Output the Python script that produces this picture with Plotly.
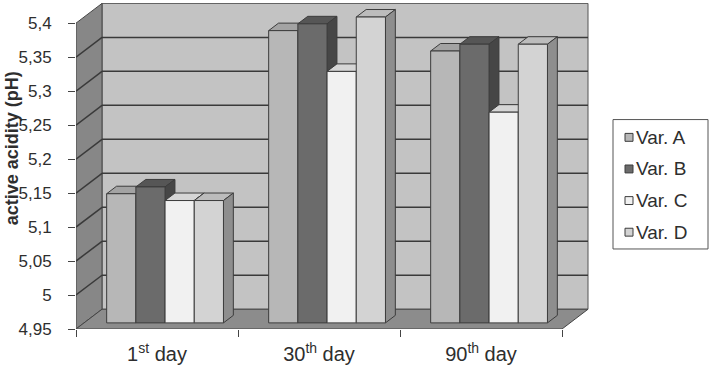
import plotly.graph_objects as go

# ---------------- data ----------------
categories = ["1st day", "30th day", "90th day"]
category_labels = ["1<sup>st</sup> day", "30<sup>th</sup> day", "90<sup>th</sup> day"]
series_names = ["Var. A", "Var. B", "Var. C", "Var. D"]
var_a = [5.14, 5.38, 5.35]
var_b = [5.15, 5.39, 5.36]
var_c = [5.13, 5.32, 5.26]
var_d = [5.13, 5.40, 5.36]
y_tickvals = [4.95, 5.0, 5.05, 5.1, 5.15, 5.2, 5.25, 5.3, 5.35, 5.4]
y_ticktext = ["4,95", "5", "5,05", "5,1", "5,15", "5,2", "5,25", "5,3", "5,35", "5,4"]
y_title = "active acidity (pH)"

series_values = [var_a, var_b, var_c, var_d]

# ---------------- styling / geometry ----------------
front_colors = ["#b7b7b7", "#6b6b6b", "#f1f1f1", "#d3d3d3"]
top_colors = ["#a3a3a3", "#565656", "#d6d6d6", "#bcbcbc"]
side_colors = ["#8d8d8d", "#464646", "#b8b8b8", "#8e8e8e"]
edge = "#3c3c3c"
text_color = "#2e2e2e"
FONT = "Liberation Sans, Arial, sans-serif"

W, H = 714, 368
ML, MR, MT, MB = 76, 124, 3, 35
plot_w = W - ML - MR
plot_h = H - MT - MB
px_per_cat = 162.0
y_min = y_tickvals[0]
y_top = y_tickvals[-1]
px_per_unit = 688.0
x_lo = -0.5
x_hi = x_lo + plot_w / px_per_cat
y_hi = y_min + plot_h / px_per_unit

DX = 26 / px_per_cat          # depth offset in x units
DY = 20 / px_per_unit         # depth offset in y units
f_front = 0.31                # bar front plane fraction of depth
f_depth = 0.38                # bar depth fraction
bar_w = 29.2 / px_per_cat
n_cat = len(categories)
x_left, x_right = x_lo, x_lo + n_cat

BX, BY = f_front * DX, f_front * DY
TX, TY = f_depth * DX, f_depth * DY


def px_to_paper_x(px):
    return (px - ML) / plot_w


def px_to_paper_y(py):
    return (H - MB - py) / plot_h


shapes = []


def path(pts):
    return "M " + " L ".join(f"{x},{y}" for x, y in pts) + " Z"


# back wall
shapes.append(dict(type="rect", xref="x", yref="y", layer="between",
                   x0=x_left + DX, x1=x_right + DX, y0=y_min + DY, y1=y_top + DY,
                   fillcolor="#c3c3c3", line=dict(color="#555555", width=1)))
# left wall
shapes.append(dict(type="path", xref="x", yref="y", layer="between",
                   path=path([(x_left, y_min), (x_left + DX, y_min + DY),
                              (x_left + DX, y_top + DY), (x_left, y_top)]),
                   fillcolor="#878787", line=dict(color="#444444", width=1)))
# floor
shapes.append(dict(type="path", xref="x", yref="y", layer="between",
                   path=path([(x_left, y_min), (x_right, y_min),
                              (x_right + DX, y_min + DY), (x_left + DX, y_min + DY)]),
                   fillcolor="#8c8c8c", line=dict(color="#444444", width=1)))
# gridlines
for v in y_tickvals[1:-1]:
    shapes.append(dict(type="line", xref="x", yref="y", layer="between",
                       x0=x_left + DX, x1=x_right + DX, y0=v + DY, y1=v + DY,
                       line=dict(color="#3a3a3a", width=1.5)))
    shapes.append(dict(type="line", xref="x", yref="y", layer="between",
                       x0=x_left, x1=x_left + DX, y0=v, y1=v + DY,
                       line=dict(color="#3a3a3a", width=1.5)))

# bar top and side faces (left to right)
n_ser = len(series_values)
offsets = [-n_ser / 2 * bar_w + i * bar_w + BX for i in range(n_ser)]
base = y_min + BY
for ci in range(n_cat):
    for si, vals in enumerate(series_values):
        xl = ci + offsets[si]
        xr = xl + bar_w
        top = vals[ci] + BY
        shapes.append(dict(type="path", xref="x", yref="y", layer="between",
                           path=path([(xl, top), (xl + TX, top + TY), (xr + TX, top + TY), (xr, top)]),
                           fillcolor=top_colors[si], line=dict(color=edge, width=1)))
        shapes.append(dict(type="path", xref="x", yref="y", layer="between",
                           path=path([(xr, top), (xr + TX, top + TY), (xr + TX, base + TY), (xr, base)]),
                           fillcolor=side_colors[si], line=dict(color=edge, width=1)))

# custom legend (box, swatches, labels)
leg_left, leg_right, leg_top, leg_bottom = 613, 708, 121, 252
leg_first_y, leg_step = 139, 32
sw_x0, sw_size, txt_x = 625, 8, 634
shapes.append(dict(type="rect", xref="paper", yref="paper", layer="above",
                   x0=px_to_paper_x(leg_left), x1=px_to_paper_x(leg_right),
                   y0=px_to_paper_y(leg_bottom), y1=px_to_paper_y(leg_top),
                   fillcolor="white", line=dict(color="#555555", width=1)))
annotations = []
for si, name in enumerate(series_names):
    cy = leg_first_y + si * leg_step
    shapes.append(dict(type="rect", xref="paper", yref="paper", layer="above",
                       x0=px_to_paper_x(sw_x0), x1=px_to_paper_x(sw_x0 + sw_size),
                       y0=px_to_paper_y(cy + sw_size / 2), y1=px_to_paper_y(cy - sw_size / 2),
                       fillcolor=front_colors[si], line=dict(color=edge, width=1)))
    annotations.append(dict(text=name, xref="paper", yref="paper",
                            x=px_to_paper_x(txt_x), y=px_to_paper_y(cy),
                            xanchor="left", yanchor="middle", showarrow=False,
                            font=dict(size=19, color=text_color, family=FONT)))

annotations.append(dict(text="<b>" + y_title + "</b>", xref="paper", yref="paper",
                        x=px_to_paper_x(12), y=px_to_paper_y(150),
                        xanchor="center", yanchor="middle", textangle=-90,
                        showarrow=False, font=dict(size=18, color=text_color, family=FONT)))

fig = go.Figure()
for si, vals in enumerate(series_values):
    fig.add_trace(go.Bar(
        x=list(range(n_cat)), y=[v - y_min for v in vals], base=base,
        offset=offsets[si], width=bar_w, name=series_names[si],
        marker=dict(color=front_colors[si], line=dict(color=edge, width=1)),
        showlegend=False, hoverinfo="skip"))

fig.update_layout(
    width=W, height=H,
    margin=dict(l=ML, r=MR, t=MT, b=MB),
    paper_bgcolor="white", plot_bgcolor="white",
    barmode="overlay",
    showlegend=False,
    shapes=shapes,
    annotations=annotations,
    font=dict(family=FONT, color=text_color),
    xaxis=dict(range=[x_lo, x_hi], tickvals=list(range(n_cat)), ticktext=category_labels,
               ticks="", showgrid=False, zeroline=False, showline=False,
               tickfont=dict(size=20), ticklabelstandoff=11,
               minor=dict(tickvals=[x_left + i for i in range(n_cat + 1)], ticks="outside",
                          ticklen=7, tickcolor="#444444", showgrid=False)),
    yaxis=dict(range=[y_min, y_hi], tickvals=y_tickvals, ticktext=y_ticktext,
               ticks="outside", ticklen=7, tickcolor="#444444",
               showgrid=False, zeroline=False, showline=False,
               tickfont=dict(size=17), ticklabelstandoff=13),
)

fig.write_html("out.html")
